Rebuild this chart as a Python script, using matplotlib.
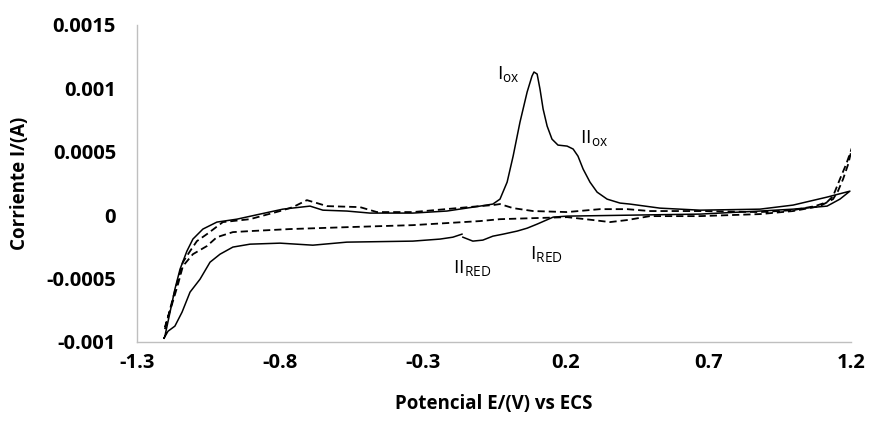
import numpy as np
import matplotlib.pyplot as plt

plt.rcParams['font.family'] = ['Open Sans', 'DejaVu Sans']
plt.rcParams['mathtext.default'] = 'regular'

# solid voltammogram (sample), anodic sweep then cathodic return
e_solid_fwd = [-1.205, -1.202, -1.184, -1.167, -1.149, -1.125, -1.104, -1.069, -1.020, -0.950,
               -0.869, -0.789, -0.694, -0.649, -0.565, -0.484, -0.334, -0.215, -0.099, -0.054,
               -0.029, -0.004, 0.017, 0.041, 0.066, 0.083, 0.090, 0.101, 0.111, 0.122,
               0.136, 0.153, 0.174, 0.206, 0.227, 0.244, 0.262, 0.286, 0.311, 0.346,
               0.391, 0.426, 0.531, 0.671, 0.881, 0.997, 1.116, 1.196]
i_solid_fwd = [-9.70, -9.54, -7.65, -5.84, -4.26, -2.84, -1.89, -1.10, -0.55, -0.32,
               0.08, 0.47, 0.71, 0.39, 0.32, 0.16, 0.16, 0.32, 0.71, 0.87,
               1.26, 2.60, 4.65, 7.33, 9.70, 10.96, 11.28, 11.12, 9.94, 8.36,
               7.02, 5.99, 5.52, 5.44, 5.21, 4.65, 3.63, 2.60, 1.81, 1.26,
               0.95, 0.87, 0.55, 0.39, 0.47, 0.79, 1.42, 1.89]
# cathodic return; the recorded trace has a small break near -0.16 V
e_solid_rev = [1.196, 1.161, 1.116, 0.997, 0.881, 0.671, 0.437, 0.206, 0.157, 0.101,
               0.066, 0.031, -0.018, -0.054, -0.089, -0.124, -0.159, np.nan, -0.162, -0.194,
               -0.239, -0.334, -0.565, -0.684, -0.799, -0.904, -0.964, -1.009, -1.044, -1.079,
               -1.114, -1.142, -1.167, -1.191, -1.205]
i_solid_rev = [1.89, 1.26, 0.71, 0.47, 0.32, 0.08, 0.0, -0.08, -0.16, -0.71,
               -1.03, -1.26, -1.50, -1.66, -1.97, -2.05, -1.74, np.nan, -1.50, -1.74,
               -1.89, -2.05, -2.13, -2.37, -2.21, -2.29, -2.52, -3.08, -3.71, -5.05,
               -6.07, -7.65, -8.75, -9.15, -9.70]

# dashed voltammogram (blank)
e_dash_fwd = [-1.202, -1.184, -1.156, -1.139, -1.114, -1.090, -1.055, -0.999, -0.904, -0.799,
              -0.754, -0.705, -0.670, -0.635, -0.519, -0.460, -0.334, -0.099, -0.054, -0.029,
              0.017, 0.087, 0.206, 0.321, 0.416, 0.496, 0.671, 0.881, 0.997, 1.074,
              1.116, 1.137, 1.161, 1.183, 1.204]
i_dash_fwd = [-8.99, -7.41, -5.05, -3.71, -2.84, -2.05, -1.50, -0.55, -0.32, 0.32,
              0.63, 1.18, 0.95, 0.71, 0.63, 0.24, 0.24, 0.71, 0.79, 0.87,
              0.55, 0.32, 0.24, 0.47, 0.47, 0.32, 0.32, 0.24, 0.39, 0.71,
              1.03, 1.50, 2.84, 4.02, 5.36]
e_dash_rev = [1.204, 1.190, 1.172, 1.154, 1.137, 1.091, 0.997, 0.881, 0.671, 0.496,
              0.416, 0.356, 0.297, 0.206, 0.087, -0.029, -0.099, -0.334, -0.565, -0.764,
              -0.904, -0.964, -1.020, -1.055, -1.104, -1.139, -1.156, -1.177, -1.202]
i_dash_rev = [5.36, 4.02, 2.84, 1.89, 1.26, 0.71, 0.32, 0.08, -0.08, -0.08,
              -0.39, -0.55, -0.39, -0.16, -0.24, -0.32, -0.47, -0.79, -0.95, -1.10,
              -1.26, -1.34, -1.74, -2.44, -3.08, -4.02, -5.44, -7.02, -8.83]

x_ticks = [-1.3, -0.8, -0.3, 0.2, 0.7, 1.2]
y_ticks = [-0.001, -0.0005, 0, 0.0005, 0.001, 0.0015]
y_tick_labels = ['-0.001', '-0.0005', '0', '0.0005', '0.001', '0.0015']

fig = plt.figure(figsize=(8.72, 4.28), dpi=100)
ax = fig.add_axes([0.157, 0.201, 0.819, 0.741])

e_solid = e_solid_fwd + e_solid_rev
i_solid = np.array(i_solid_fwd + i_solid_rev) * 1e-4
e_dash = e_dash_fwd + e_dash_rev
i_dash = np.array(i_dash_fwd + i_dash_rev) * 1e-4

ax.plot(e_dash, i_dash, color='black', linewidth=1.3, dashes=(4, 2.2))
ax.plot(e_solid, i_solid, color='black', linewidth=1.1)

ax.set_xlim(-1.3, 1.2)
ax.set_ylim(-0.001, 0.0015)
ax.set_xticks(x_ticks)
ax.set_xticklabels([str(v) for v in x_ticks])
ax.set_yticks(y_ticks)
ax.set_yticklabels(y_tick_labels)
ax.tick_params(length=0, labelsize=14.5)
ax.tick_params(axis='x', pad=8)
ax.tick_params(axis='y', pad=15)
for lab in ax.get_xticklabels() + ax.get_yticklabels():
    lab.set_fontweight('bold')

for s in ['top', 'right']:
    ax.spines[s].set_visible(False)
for s in ['left', 'bottom']:
    ax.spines[s].set_color('#bfbfbf')
    ax.spines[s].set_linewidth(1.0)

ax.set_xlabel('Potencial E/(V) vs ECS', fontsize=13.5, fontweight='bold', labelpad=15)
ax.set_ylabel('Corriente I/(A)', fontsize=13.5, fontweight='bold', labelpad=12)

# peak labels
ax.text(-0.040, 0.00111, r'I$_{ox}$', fontsize=14, ha='left', va='center')
ax.text(0.250, 0.00061, r'II$_{ox}$', fontsize=14, ha='left', va='center')
ax.text(-0.195, -0.00042, r'II$_{RED}$', fontsize=14, ha='left', va='center')
ax.text(0.075, -0.00031, r'I$_{RED}$', fontsize=14, ha='left', va='center')

fig.savefig('out.png', dpi=100)
